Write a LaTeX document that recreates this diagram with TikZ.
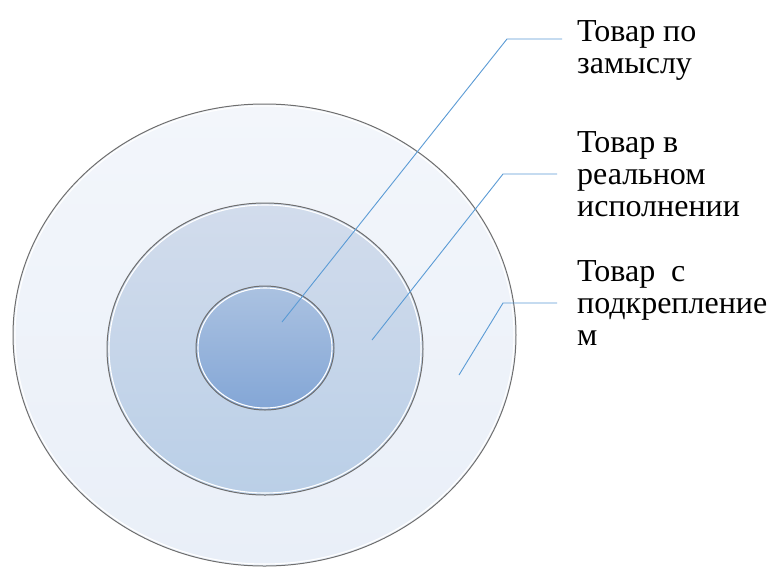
\documentclass[tikz,border=0pt]{standalone}
\usepackage{fontspec}
\setmainfont{Liberation Serif}
\usetikzlibrary{shapes.geometric}

\definecolor{rimgray}{HTML}{6E6E6E}
\definecolor{leader}{HTML}{5B9BD5}
\definecolor{outerTop}{HTML}{F3F6FB}
\definecolor{outerBot}{HTML}{E9EFF8}
\definecolor{midTop}{HTML}{D2DCEC}
\definecolor{midBot}{HTML}{BACFE7}
\definecolor{innTop}{HTML}{ABC2E1}
\definecolor{innBot}{HTML}{83A6D6}

\tikzset{
  ring/.style={ellipse, inner sep=0pt, draw=rimgray, line width=1pt, shading=axis, shading angle=0},
  rim/.style={draw=white, line width=1.1pt},
  leaderline/.style={draw=leader, line width=0.9pt},
  label/.style={anchor=base west, align=left, inner sep=0pt,
    font=\fontsize{32}{32}\selectfont}
}

\begin{document}
\begin{tikzpicture}[x=1pt, y=-1pt]
  \useasboundingbox[fill=white] (0,0) rectangle (769,566);

  % three nested layers of the product
  \node[ring, top color=outerTop, bottom color=outerBot,
        minimum width=503pt, minimum height=462pt] (outer) at (264.5,335) {};
  \draw[rim] (outer.center) ellipse [x radius=249.5pt, y radius=229pt];

  \node[ring, top color=midTop, bottom color=midBot,
        minimum width=316pt, minimum height=292pt] (middle) at (265,349) {};
  \draw[rim] (middle.center) ellipse [x radius=156pt, y radius=144pt];

  \node[ring, top color=innTop, bottom color=innBot,
        minimum width=138pt, minimum height=124pt] (inner) at (265,348) {};
  \draw[rim] (inner.center) ellipse [x radius=67pt, y radius=60pt];

  % captions (placed by the baseline of their last line)
  \node[label] (capA) at (577,73) {Товар по\\замыслу};
  \node[label] (capB) at (577,216) {Товар в\\реальном\\исполнении};
  \node[label] (capC) at (577,345) {Товар\ \ с\\подкрепление\\м};

  % leader points
  \coordinate (pA) at (282,322);
  \coordinate (kA) at (507,39);
  \coordinate (eA) at (562,39);
  \coordinate (pB) at (372,340);
  \coordinate (kB) at (503,174);
  \coordinate (eB) at (557,174);
  \coordinate (pC) at (459,375);
  \coordinate (kC) at (503,303);
  \coordinate (eC) at (557,303);

  \draw[leaderline] (pA) -- (kA) -- (eA);
  \draw[leaderline] (pB) -- (kB) -- (eB);
  \draw[leaderline] (pC) -- (kC) -- (eC);
\end{tikzpicture}
\end{document}
